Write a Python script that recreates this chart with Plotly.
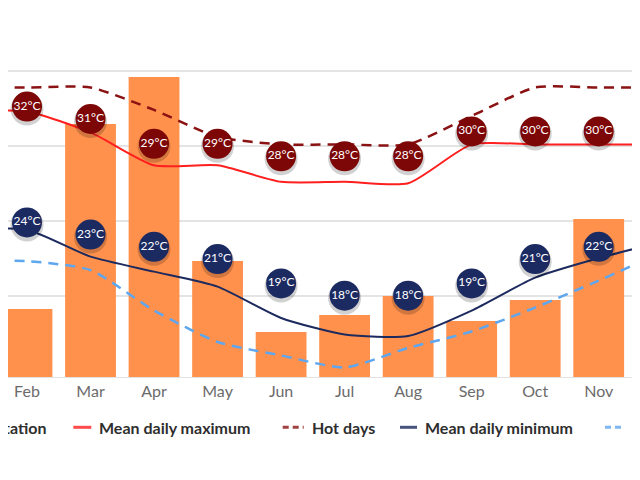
import plotly.graph_objects as go

MONTHS = ["Jan", "Feb", "Mar", "Apr", "May", "Jun", "Jul", "Aug", "Sep", "Oct", "Nov", "Dec"]

# precipitation (mm) and temperatures (degC)
PRECIP = [65, 68, 253, 300, 116, 45, 62, 81, 56, 77, 158, 209]
MEAN_MAX = [32.3, 32.3, 30.9, 28.7, 28.7, 27.6, 27.6, 27.5, 30.1, 30.1, 30.1, 30.1]
HOT_DAYS = [33.9, 33.9, 33.9, 32.4, 30.6, 30.1, 30.1, 30.1, 32.0, 33.9, 33.9, 33.9]
MEAN_MIN = [24.4, 24.4, 22.6, 21.6, 20.6, 18.5, 17.4, 17.3, 19.0, 21.2, 22.5, 23.6]
COLD_NIGHTS = [22.3, 22.3, 21.7, 19.0, 16.9, 16.0, 15.2, 16.5, 17.6, 19.2, 21.0, 22.9]

# rounded values shown in the bubbles
MAX_LABELS = [32, 32, 31, 29, 29, 28, 28, 28, 30, 30, 30, 30]
MIN_LABELS = [24, 24, 23, 22, 21, 19, 18, 18, 19, 21, 22, 23]

GRID_TEMPS = [20, 25, 30, 35]

LEGEND = [
    ("Precipitation", "#ff914d", "bar"),
    ("Mean daily maximum", "#ff1f1f", "solid"),
    ("Hot days", "#8b1212", "dash"),
    ("Mean daily minimum", "#1c2a5e", "solid"),
    ("Cold nights", "#5ea6ee", "dash"),
]

FONT = "Lato, 'Open Sans', sans-serif"
# page body has an 8px margin, so the figure is drawn 8px in from the corner;
# keep the page short enough that no scrollbar appears
OFF = 8
W, H = 640 - OFF, 462
TOP, BOTTOM = 56, 93
PLOT_H = H - TOP - BOTTOM

PRECIP_RANGE = [0, PLOT_H]
TEMP_RANGE = [14.56, 35.47]
MAX_RANGE = [10.26, 35.42]
MIN_RANGE = [11.34, 36.97]

fig = go.Figure()

fig.add_trace(go.Bar(
    x=MONTHS, y=PRECIP, name="Precipitation",
    marker=dict(color="#ff914d", line=dict(width=0)),
    yaxis="y",
))

dash = "10px,7px"
for vals, name, colour, style, width in [
    (HOT_DAYS, "Hot days", "#8b1212", dash, 2.5),
    (MEAN_MAX, "Mean daily maximum", "#ff1f1f", "solid", 2),
    (COLD_NIGHTS, "Cold nights", "#5ea6ee", dash, 2.5),
    (MEAN_MIN, "Mean daily minimum", "#1c2a5e", "solid", 2),
]:
    fig.add_trace(go.Scatter(
        x=MONTHS, y=vals, name=name, mode="lines",
        line=dict(color=colour, width=width, dash=style, shape="spline", smoothing=0.6),
        yaxis="y2",
    ))


def add_bubbles(labels, colour, axis, rng):
    # soft shadow a couple of pixels below each bubble
    shift = 2.5 * (rng[1] - rng[0]) / PLOT_H
    fig.add_trace(go.Scatter(
        x=MONTHS, y=[v - shift for v in labels], mode="markers",
        marker=dict(size=33, color="rgba(0,0,0,0.18)", line=dict(width=0)),
        yaxis=axis, hoverinfo="skip",
    ))
    fig.add_trace(go.Scatter(
        x=MONTHS, y=labels, mode="markers+text",
        text=[f"{v}°C" for v in labels], textposition="middle center",
        textfont=dict(family=FONT, size=12, color="white"),
        marker=dict(size=30, color=colour, line=dict(width=0)),
        yaxis=axis,
    ))


add_bubbles(MAX_LABELS, "#7d0606", "y3", MAX_RANGE)
add_bubbles(MIN_LABELS, "#1c2a62", "y4", MIN_RANGE)

# hand-built legend, wider than the visible frame
legend_y = -(427.3 - 377) / PLOT_H
items_x = [(None, 48.3), (73.3, 99.3), (282.7, 311.7), (400.0, 425.0), (605.0, 633.0)]
shapes = []
annotations = []
for (label, colour, kind), (sx, tx) in zip(LEGEND, items_x):
    tx -= OFF
    if kind == "bar":
        shapes.append(dict(type="rect", xref="paper", yref="paper",
                           x0=(tx - 135) / W, x1=(tx - 123) / W,
                           y0=legend_y - 6 / PLOT_H, y1=legend_y + 6 / PLOT_H,
                           fillcolor=colour, line=dict(width=0)))
        annotations.append(dict(x=tx / W, y=legend_y, xref="paper", yref="paper",
                                text=f"<b>{label}</b>", showarrow=False,
                                xanchor="right", yanchor="middle",
                                font=dict(family=FONT, size=16, color="#2e2e2e")))
        continue
    sx -= OFF
    shapes.append(dict(type="line", xref="paper", yref="paper",
                       x0=sx / W, x1=(tx - 8) / W, y0=legend_y, y1=legend_y,
                       opacity=0.8,
                       line=dict(color=colour, width=3,
                                 dash="6px,4px" if kind == "dash" else "solid")))
    annotations.append(dict(x=(tx - 2) / W, y=legend_y, xref="paper", yref="paper",
                            text=f"<b>{label}</b>", showarrow=False,
                            xanchor="left", yanchor="middle",
                            font=dict(family=FONT, size=16, color="#2e2e2e")))

fig.update_layout(
    width=W, height=H,
    margin=dict(l=0, r=0, t=TOP, b=BOTTOM),
    paper_bgcolor="white", plot_bgcolor="white",
    showlegend=False, bargap=0.2,
    font=dict(family=FONT),
    xaxis=dict(
        type="category", range=[0.701, 10.65],
        showgrid=False, zeroline=False, ticks="",
        showline=True, linecolor="#e2e2e2", linewidth=1,
        tickfont=dict(family=FONT, size=16, color="#6b6b6b"),
    ),
    yaxis=dict(range=PRECIP_RANGE, showgrid=False, showticklabels=False, zeroline=False),
    yaxis2=dict(
        range=TEMP_RANGE, overlaying="y", tickvals=GRID_TEMPS,
        showticklabels=False, showgrid=True, gridcolor="#e4e4e4", gridwidth=1.5,
        zeroline=False,
    ),
    yaxis3=dict(range=MAX_RANGE, overlaying="y", visible=False),
    yaxis4=dict(range=MIN_RANGE, overlaying="y", visible=False),
    shapes=shapes,
    annotations=annotations,
)

fig.write_html("out.html")
